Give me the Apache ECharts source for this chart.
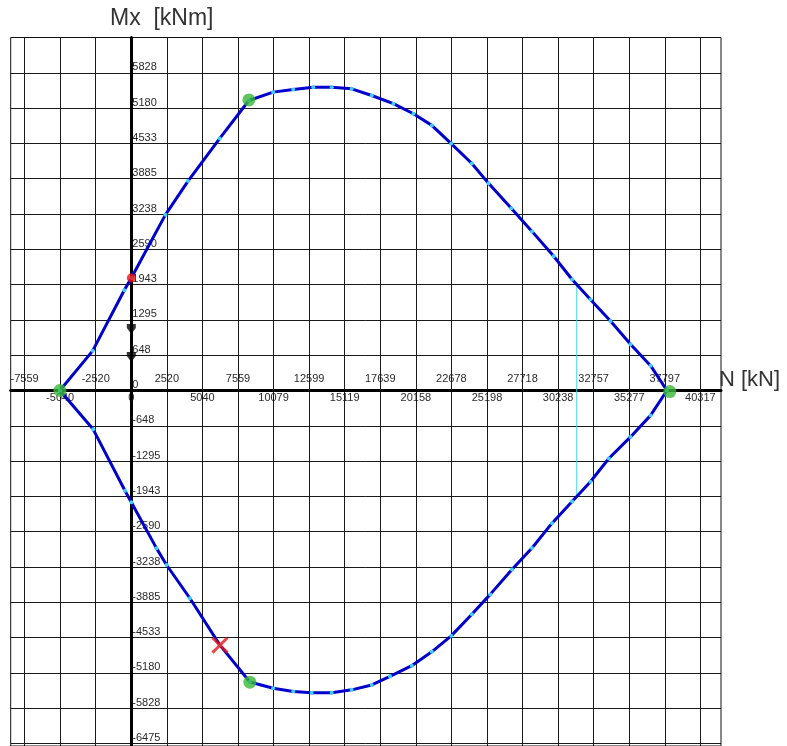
<!DOCTYPE html>
<html>
<head>
<meta charset="utf-8">
<script src="https://cdn.jsdelivr.net/npm/echarts@6/dist/echarts.min.js"></script>
<style>
html, body { margin: 0; padding: 0; background: #fff; }
#chart { width: 787px; height: 746px; }
</style>
</head>
<body>
<div id="chart"></div>
<script>
// tick labels of the N axis, split by the side of the axis they sit on
const xLabelsAbove = [-7559, -2520, 2520, 7559, 12599, 17639, 22678, 27718, 32757, 37797];
const xLabelsBelow = [-5040, 0, 5040, 10079, 15119, 20158, 25198, 30238, 35277, 40317];
const yLabels = [5828, 5180, 4533, 3885, 3238, 2590, 1943, 1295, 648, 0,
  -648, -1295, -1943, -2590, -3238, -3885, -4533, -5180, -5828, -6475];

// interaction curve [N, Mx], upper branch left -> right
const upperBranch = [
  [-5060, 0], [-2740, 728], [-500, 1840], [0, 2065], [2413, 3222], [4018, 3842],
  [6268, 4624], [8330, 5319], [10050, 5473], [11470, 5520], [12890, 5564],
  [14200, 5564], [15615, 5533], [17035, 5411], [18570, 5261], [19990, 5076],
  [21290, 4863], [22665, 4529], [24130, 4164], [25310, 3800], [26920, 3344],
  [28390, 2919], [29930, 2463], [31230, 2036], [32530, 1671], [33950, 1277],
  [35370, 850], [36790, 456], [37950, 0]
];
// lower branch right -> left
const lowerBranch = [
  [36790, -456], [35370, -851], [33830, -1247], [32530, -1673], [31230, -2037],
  [29810, -2433], [28390, -2889], [26970, -3283], [25430, -3739], [24130, -4104],
  [22665, -4500], [21290, -4792], [19870, -5047], [18330, -5242], [17035, -5400],
  [15615, -5490], [14200, -5545], [12780, -5545], [11470, -5521], [10050, -5461],
  [8400, -5345], [6280, -4670], [4150, -3810], [2500, -3200], [1790, -2895],
  [0, -2050], [-446, -1839], [-2700, -712], [-5060, 0]
];

const greenPoints = [[-5060, 0], [8330, 5330], [8400, -5350], [38150, -20]];
const redPoint = [[0, 2065]];
const blackMarks = [[0, 1130], [0, 615]];
const crossPoint = [[6280, -4670]];
const cyanLine = [[31560, 1990], [31560, -1950]];
const redLine = [[42773, 6475], [42773, 0]];

const xTicks = xLabelsAbove.concat(xLabelsBelow).sort((a, b) => a - b);
const font = "Liberation Sans, Arial, sans-serif";
const W = 787, H = 746;
const grid = { left: 10.7, right: 66, top: 37.5, bottom: -3.4 };
const xRange = [-8545, 41780];
const yRange = [-6520, 6475];

const chart = echarts.init(document.getElementById("chart"), null, { renderer: "canvas" });

const labelStyle = { color: "#2a2a2a", fontSize: 11, fontFamily: font, formatter: (v) => String(v) };

const labelAxisX = (position, values, margin) => ({
  type: "value",
  min: xRange[0],
  max: xRange[1],
  position,
  axisLine: { show: false, onZero: false },
  axisTick: { show: false },
  splitLine: { show: false },
  axisLabel: { ...labelStyle, inside: true, margin, customValues: values },
  z: 0,
});

chart.setOption({
  animation: false,
  backgroundColor: "#fff",
  grid: { show: true, ...grid, borderColor: "#111", borderWidth: 1 },
  xAxis: [
    {
      type: "value",
      min: xRange[0],
      max: xRange[1],
      position: "bottom",
      axisLine: { onZero: true, lineStyle: { color: "#000", width: 3 } },
      axisTick: { show: false, customValues: xTicks },
      splitLine: { show: true, lineStyle: { color: "#1a1a1a", width: 1 } },
      axisLabel: { show: false },
      z: 1,
    },
    labelAxisX("bottom", xLabelsAbove, 3),
    labelAxisX("top", xLabelsBelow, 2),
  ],
  yAxis: [
    {
      type: "value",
      min: yRange[0],
      max: yRange[1],
      position: "left",
      axisLine: { onZero: true, lineStyle: { color: "#000", width: 3 } },
      axisTick: { show: false, customValues: yLabels },
      splitLine: { show: true, lineStyle: { color: "#1a1a1a", width: 1 } },
      axisLabel: { show: false },
      z: 1,
    },
    {
      type: "value",
      min: yRange[0],
      max: yRange[1],
      position: "left",
      axisLine: { show: false, onZero: false },
      axisTick: { show: false },
      splitLine: { show: false },
      axisLabel: {
        ...labelStyle,
        inside: true,
        margin: 1,
        align: "left",
        verticalAlign: "bottom",
        lineHeight: 11,
        customValues: yLabels,
      },
      z: 0,
    },
  ],
  graphic: [
    {
      type: "text",
      left: 110,
      top: 7,
      style: { text: "Mx  [kNm]", font: `23px ${font}`, fill: "#333" },
    },
    {
      type: "text",
      left: 719,
      top: 369,
      style: { text: "N [kN]", font: `22px ${font}`, fill: "#333" },
      z: 10,
    },
  ],
  series: [
    {
      type: "line",
      data: upperBranch.concat(lowerBranch),
      lineStyle: { color: "#0000cd", width: 3 },
      symbol: "circle",
      symbolSize: 4,
      showAllSymbol: true,
      itemStyle: { color: "#3cd0ff" },
      z: 3,
    },
    {
      type: "line",
      data: cyanLine,
      symbol: "none",
      lineStyle: { color: "#3cd8e8", width: 1 },
      z: 2,
    },
    {
      type: "line",
      data: redLine,
      symbol: "none",
      clip: false,
      lineStyle: { color: "#e01010", width: 1 },
      z: 2,
    },
    {
      type: "scatter",
      data: greenPoints,
      symbolSize: 13,
      itemStyle: { color: "#38b838" },
      z: 4,
    },
    {
      type: "scatter",
      data: redPoint,
      symbolSize: 9,
      itemStyle: { color: "#f01010" },
      z: 4,
    },
    {
      type: "scatter",
      data: blackMarks,
      symbol: "path://M0,0L10,0L10,4L5,10L0,4Z",
      symbolSize: [9, 10],
      symbolKeepAspect: false,
      itemStyle: { color: "#000" },
      z: 4,
    },
    {
      type: "scatter",
      data: crossPoint,
      symbol: "path://M0,1.2L1.2,0L5,3.8L8.8,0L10,1.2L6.2,5L10,8.8L8.8,10L5,6.2L1.2,10L0,8.8L3.8,5Z",
      symbolSize: 17,
      itemStyle: { color: "#f01010" },
      z: 4,
    },
  ],
});

// move the label-only axes onto the zero lines
const zero = chart.convertToPixel({ xAxisIndex: 0, yAxisIndex: 0 }, [0, 0]);
const gridBottom = H - grid.bottom;
chart.setOption({
  xAxis: [
    {},
    { offset: -(gridBottom - zero[1]) },
    { offset: -(zero[1] - grid.top) },
  ],
  yAxis: [
    {},
    { offset: -(zero[0] - grid.left) },
  ],
});
</script>
</body>
</html>
